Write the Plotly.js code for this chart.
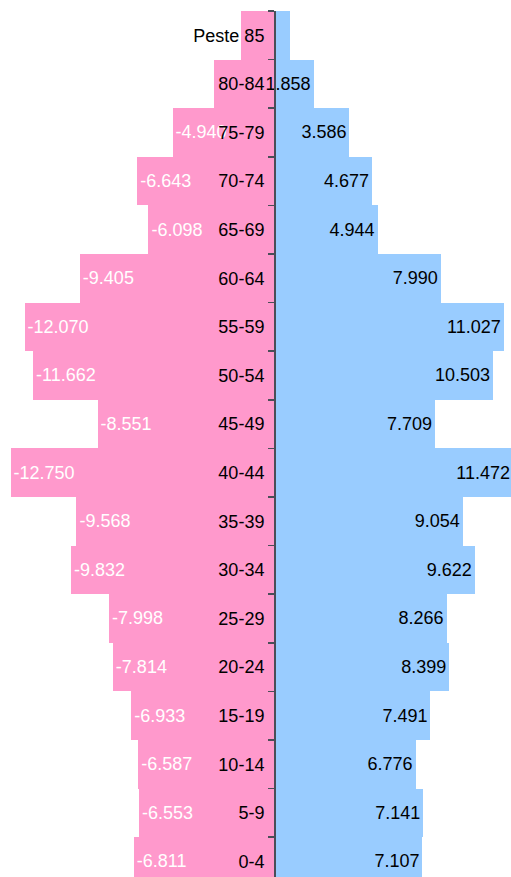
<!DOCTYPE html>
<html>
<head>
<meta charset="utf-8">
<script src="https://cdn.plot.ly/plotly-3.0.1.min.js"></script>
<style>html,body{margin:0;padding:0;background:#fff;}#chart{width:511px;height:877px;}</style>
</head>
<body>
<div id="chart"></div>
<script>
// Age groups, bottom to top
const ageGroups = ["0-4","5-9","10-14","15-19","20-24","25-29","30-34","35-39","40-44","45-49","50-54","55-59","60-64","65-69","70-74","75-79","80-84","Peste 85"];
// Left side (pink), shown as negative values
const femaleValues = [-6.811,-6.553,-6.587,-6.933,-7.814,-7.998,-9.832,-9.568,-12.750,-8.551,-11.662,-12.070,-9.405,-6.098,-6.643,-4.940,-2.94,-1.64];
// Right side (blue)
const maleValues = [7.107,7.141,6.776,7.491,8.399,8.266,9.622,9.054,11.472,7.709,10.503,11.027,7.990,4.944,4.677,3.586,1.858,0.72];
// Which bars carry a value label
const femaleLabelShown = [true,true,true,true,true,true,true,true,true,true,true,true,true,true,true,true,false,false];
const maleLabelShown   = [true,true,true,true,true,true,true,true,true,true,true,true,true,true,true,true,true,false];

const femaleText = femaleValues.map((v,i)=> femaleLabelShown[i] ? v.toFixed(3) : "");
const maleText = maleValues.map((v,i)=> maleLabelShown[i] ? v.toFixed(3) : "");

const xMin = -12.723, xMax = 11.373;
const font = "Arial, 'Liberation Sans', sans-serif";

const traces = [
  {type:"bar", orientation:"h", y:ageGroups, x:femaleValues, text:femaleText,
   marker:{color:"#FF99CC"}, textposition:"inside", insidetextanchor:"end", textangle:0,
   constraintext:"none",
   textfont:{family:font, size:18, color:"#ffffff"}, hoverinfo:"none", cliponaxis:true},
  {type:"bar", orientation:"h", y:ageGroups, x:maleValues, text:maleText,
   marker:{color:"#99CCFF"}, textposition:"inside", insidetextanchor:"end", textangle:0,
   constraintext:"none",
   textfont:{family:font, size:18, color:"#000000"}, hoverinfo:"none", cliponaxis:true}
];

const layout = {
  width:511, height:877,
  margin:{l:11, r:0, t:11, b:0, pad:0},
  paper_bgcolor:"#ffffff", plot_bgcolor:"#ffffff",
  barmode:"relative", bargap:0,
  showlegend:false,
  font:{family:font, size:18, color:"#000"},
  xaxis:{range:[xMin,xMax], visible:false, fixedrange:true},
  yaxis:{type:"category", categoryorder:"array", categoryarray:ageGroups,
         range:[-0.32, 17.5], anchor:"free", position:(0 - xMin)/(xMax - xMin),
         showline:true, linecolor:"#4a4e58", linewidth:2,
         ticks:"outside", tickson:"boundaries", ticklen:6, tickwidth:1.5, tickcolor:"#4a4e58",
         ticklabelstandoff:6,
         tickfont:{family:font, size:18, color:"#000"}, showgrid:false, zeroline:false,
         layer:"above traces", fixedrange:true}
};

Plotly.newPlot("chart", traces, layout, {displayModeBar:false, staticPlot:true});
</script>
</body>
</html>
